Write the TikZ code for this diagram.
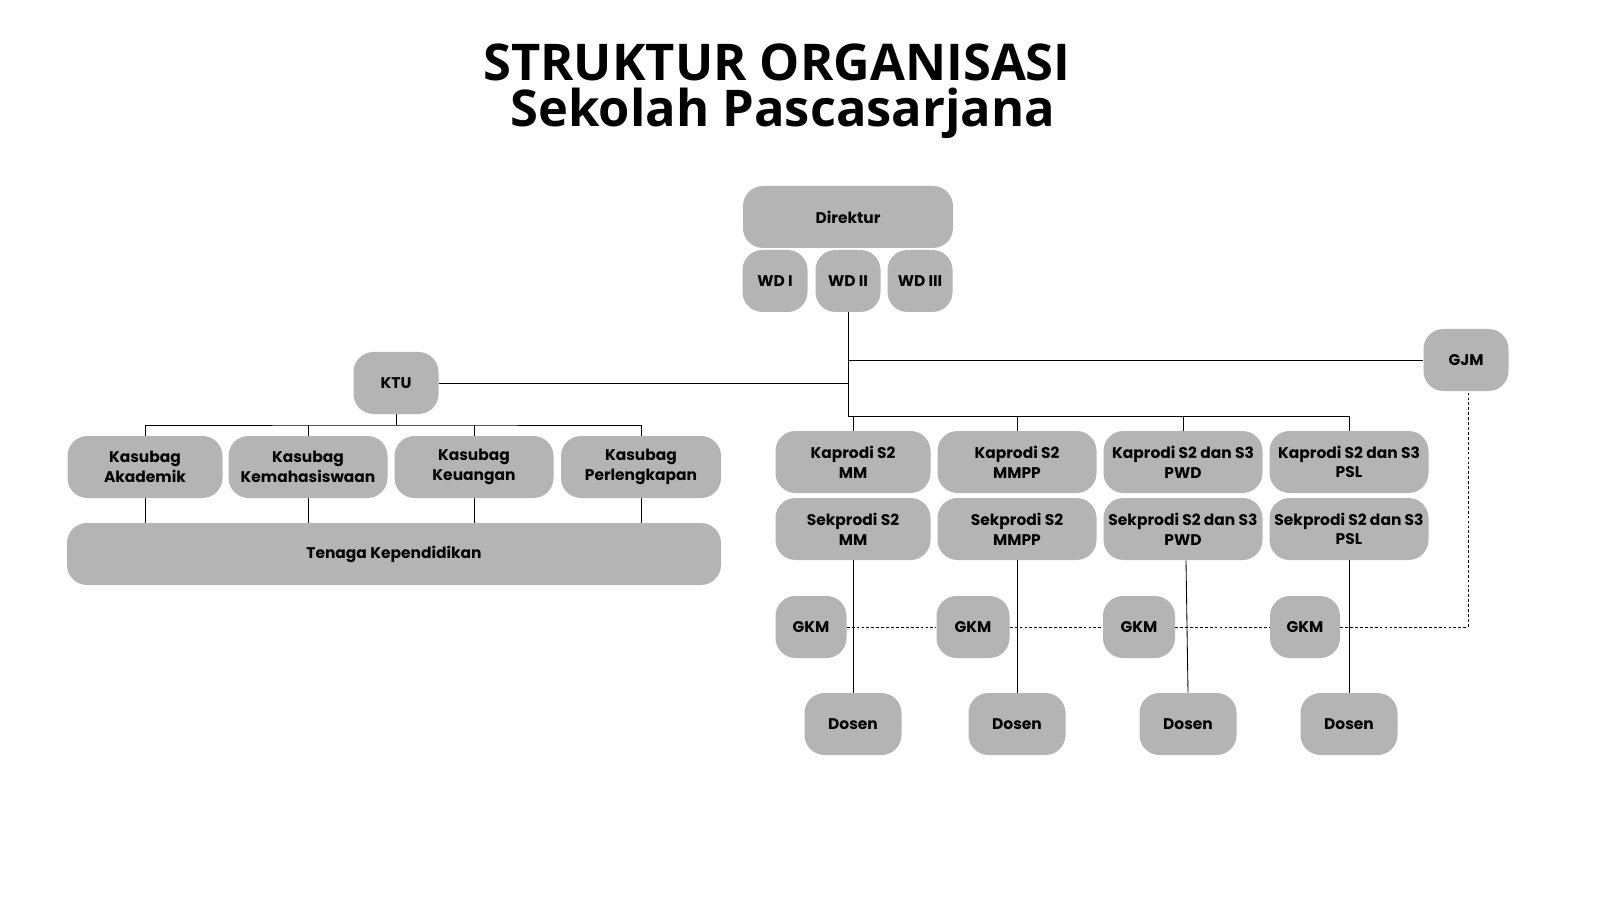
\documentclass[tikz,border=0pt]{standalone}
\usepackage{fontspec}
\setmainfont{Poppins}
\newfontfamily\titlefont{Open Sans}
\usetikzlibrary{positioning}
\tikzset{
  unit/.style={x=0.025cm,y=-0.025cm},
  box/.style 2 args={draw=none,fill=boxgray,rounded corners=0.5cm,align=center,
    font=\fontsize{11}{14}\selectfont\bfseries,inner sep=1pt,
    minimum width={#1*0.025cm},minimum height={#2*0.025cm}},
  heading/.style={font=\titlefont\fontsize{36}{38}\selectfont\bfseries,inner sep=0pt,
    text height=24pt,text depth=4pt},
  link/.style={black,line width=0.6pt},
  gkmlink/.style={black,line width=0.6pt,dashed,dash pattern=on 2pt off 1.5pt}
}
\definecolor{boxgray}{HTML}{B4B4B4}
\begin{document}
\begin{tikzpicture}[unit]
  \fill[white] (0,0) rectangle (1599,899);
  \node[heading] (title1) at (777,66) {STRUKTUR ORGANISASI};
  \node[heading] (title2) at (783,112) {Sekolah Pascasarjana};

  % pimpinan
  \node[box={210}{62}] (dir) at (848,217) {Direktur};
  \node[box={65}{62}] (wd1) at (775,281) {WD I};
  \node[box={65}{62}] (wd2) at (848,281) {WD II};
  \node[box={65}{62}] (wd3) at (920,281) {WD III};
  \node[box={85}{62}] (gjm) at (1466,360) {GJM};
  \node[box={85}{62}] (ktu) at (396,383) {KTU};

  % tata usaha
  \node[box={155}{62}] (ak) at (145,467) {Kasubag\\Akademik};
  \node[box={159}{62}] (km) at (308,467) {Kasubag\\Kemahasiswaan};
  \node[box={159}{62}] (ku) at (474,467) {Kasubag\\Keuangan};
  \node[box={160}{62}] (pl) at (641,467) {Kasubag\\Perlengkapan};
  \node[box={654}{62}] (tendik) at (394,554) {Tenaga Kependidikan};

  % prodi
  \node[box={155}{62}] (ka1) at (853,462) {Kaprodi S2\\MM};
  \node[box={159}{62}] (ka2) at (1017,462) {Kaprodi S2\\MMPP};
  \node[box={159}{62}] (ka3) at (1183,462) {Kaprodi S2 dan S3\\PWD};
  \node[box={159}{62}] (ka4) at (1349,462) {Kaprodi S2 dan S3\\PSL};
  \node[box={155}{62}] (se1) at (853,529) {Sekprodi S2\\MM};
  \node[box={159}{62}] (se2) at (1017,529) {Sekprodi S2\\MMPP};
  \node[box={159}{62}] (se3) at (1183,529) {Sekprodi S2 dan S3\\PWD};
  \node[box={159}{62}] (se4) at (1349,529) {Sekprodi S2 dan S3\\PSL};
  \node[box={71}{62}] (gkm1) at (811,627) {GKM};
  \node[box={73}{62}] (gkm2) at (973,627) {GKM};
  \node[box={72}{62}] (gkm3) at (1139,627) {GKM};
  \node[box={70}{62}] (gkm4) at (1305,627) {GKM};
  \node[box={97}{62}] (ds1) at (853,724) {Dosen};
  \node[box={97}{62}] (ds2) at (1017,724) {Dosen};
  \node[box={97}{62}] (ds3) at (1188,724) {Dosen};
  \node[box={97}{62}] (ds4) at (1349,724) {Dosen};

  \coordinate (hub) at (848,416);
  \coordinate (tu) at (396,425);
  \coordinate (gjmc) at (1468,627);

  % garis
  \draw[link] (wd2.south) -- (hub);
  \draw[link] (wd2.south |- gjm.west) -- (gjm.west);
  \draw[link] (wd2.south |- ktu.east) -- (ktu.east);
  \draw[link] (hub) -| (ka4.north);
  \foreach \k in {ka1,ka2,ka3}
    \draw[link] (hub -| \k.north) -- (\k.north);
  \draw[link] (ktu.south) -- (tu);
  \draw[link] (ak.north) |- (tu) -| (pl.north);
  \foreach \k in {km,ku}
    \draw[link] (tu -| \k.north) -- (\k.north);
  \foreach \k in {ak,km,ku,pl}
    \draw[link] (\k.south) -- (\k.south |- tendik.north);
  \foreach \i in {1,2,4}
    \draw[link] (se\i.south) -- (ds\i.north);
  \draw[link] ([xshift=3*0.025cm]se3.south) -- (ds3.north);
  \draw[gkmlink] (gkm1) -- (gkm2) -- (gkm3) -- (gkm4);
  \draw[gkmlink] (gkm4.east) -- (gjmc) -- (gjmc |- gjm.south);

  \pgfresetboundingbox
  \useasboundingbox (0,0) rectangle (1599,899);
\end{tikzpicture}
\end{document}
